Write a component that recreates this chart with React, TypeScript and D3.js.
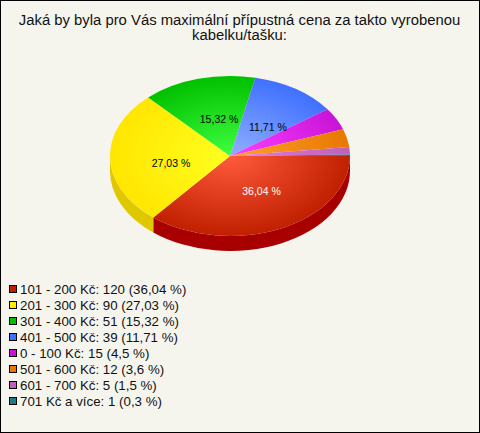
import * as d3 from 'd3';
import React from 'react';

const categories = ['101 - 200 Kč', '201 - 300 Kč', '301 - 400 Kč', '401 - 500 Kč', '0 - 100 Kč', '501 - 600 Kč', '601 - 700 Kč', '701 Kč a více'];
const counts = [120, 90, 51, 39, 15, 12, 5, 1];
const percents = ['36,04', '27,03', '15,32', '11,71', '4,5', '3,6', '1,5', '0,3'];
const legendColors = ['#c02000', '#ffee00', '#00c000', '#4070ff', '#c814d8', '#e87800', '#c060b8', '#207890'];
const edgeColors = ['#c02000', '#ffe600', '#00c000', '#4070ff', '#c814d8', '#e87800', '#c060b8', '#207890'];
const centerColors = ['#ff5a3c', '#ffff20', '#40ff40', '#90b0ff', '#ff40ff', '#ffa030', '#e080e0', '#40a0c0'];
const wallColors = ['#a80000', '#e0c800', '#00a000', '#3058d0', '#a800b8', '#c06000', '#a04898', '#106078'];
const titleLines = ['Jaká by byla pro Vás maximální přípustná cena za takto vyrobenou', 'kabelku/tašku:'];
// small hand nudges for the four big slice labels
const labelNudgeX = [6, 1, 5, 5];
const labelNudgeY = [-1, 6, 1.5, 4.5];

const width = 480;
const height = 433;
const cx = 230;
const cy = 156;
const radius = 120;
const squash = 2 / 3;
const depth = 15 / squash;

const App = () => {
    const slices = d3.pie<number>().sort(null).startAngle(Math.PI / 2).endAngle(Math.PI * 2.5)(counts);
    const arc = d3.arc<d3.PieArcDatum<number>>().innerRadius(0).outerRadius(radius);

    // side wall, only the part of a slice on the front half of the pie
    const wall = (s: d3.PieArcDatum<number>) => {
        const a0 = Math.max(s.startAngle - Math.PI / 2, 0);
        const a1 = Math.min(s.endAngle - Math.PI / 2, Math.PI);
        if (a1 <= a0) return null;
        const p = d3.path();
        p.arc(0, 0, radius, a0, a1);
        p.lineTo(radius * Math.cos(a1), radius * Math.sin(a1) + depth);
        p.arc(0, depth, radius, a1, a0, true);
        p.closePath();
        return p.toString();
    };

    const legendY = d3.scalePoint<number>().domain(d3.range(categories.length)).range([294, 294 + 16 * 7]);

    return (
        <svg width={width} height={height} style={{ position: 'absolute', left: 0, top: 0 }} fontFamily="'Liberation Sans', Arial, sans-serif">
            <defs>
                {slices.map((s, i) => (
                    <radialGradient key={i} id={'g' + i} gradientUnits="userSpaceOnUse" cx={0} cy={0} r={radius}>
                        <stop offset="0" stopColor={centerColors[i]} />
                        <stop offset="1" stopColor={edgeColors[i]} />
                    </radialGradient>
                ))}
            </defs>
            <rect x={0.5} y={0.5} width={width - 1} height={height - 1} fill="#f5f5ee" stroke="#000" />
            {titleLines.map((t, i) => (
                <text key={i} x={239.5} y={25 + i * 15} textAnchor="middle" fontSize={14.85} fill="#111">{t}</text>
            ))}
            <g transform={`translate(${cx},${cy}) scale(1,${squash})`}>
                {slices.map((s, i) => {
                    const d = wall(s);
                    return d ? <path key={i} d={d} fill={wallColors[i]} /> : null;
                })}
                {slices.map((s, i) => (
                    <path key={i} d={arc(s) as string} fill={`url(#g${i})`} />
                ))}
            </g>
            {slices.map((s, i) => {
                if (counts[i] / d3.sum(counts) < 0.1) return null;
                const mid = (s.startAngle + s.endAngle) / 2;
                const x = cx + labelNudgeX[i] + 0.5 * radius * Math.sin(mid);
                const y = cy + labelNudgeY[i] - 0.5 * radius * squash * Math.cos(mid);
                return (
                    <text key={i} x={x} y={y + 4} textAnchor="middle" fontSize={10.5} fill={i === 0 ? '#fff' : '#000'}>
                        {percents[i]} %
                    </text>
                );
            })}
            {categories.map((c, i) => (
                <g key={i}>
                    <rect x={9.5} y={(legendY(i) as number) - 8.5} width={7} height={7} fill={legendColors[i]} stroke="#000" />
                    <text x={20} y={legendY(i) as number} fontSize={13.3} fill="#111">
                        {c}: {counts[i]} ({percents[i]} %)
                    </text>
                </g>
            ))}
        </svg>
    );
};

export default App;
